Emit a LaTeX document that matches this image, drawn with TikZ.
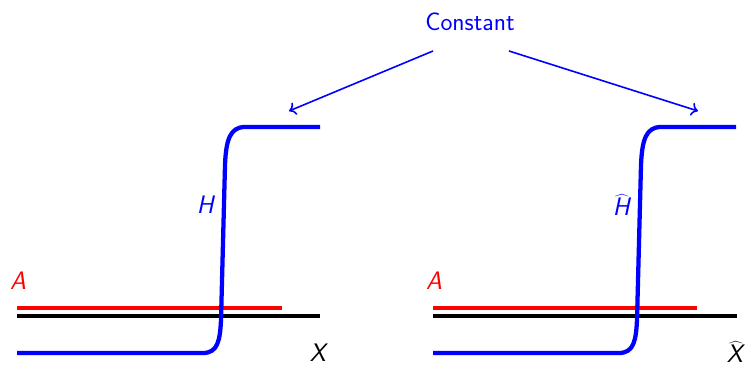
\documentclass[tikz,border=0pt]{standalone}
\usetikzlibrary{arrows.meta}
\begin{document}
\begin{tikzpicture}[x=0.75pt,y=-0.75pt,
  lbl/.style={font=\fontsize{19}{22}\selectfont\sffamily},
  curve/.style={blue,line width=3.2pt,line join=round},
  redline/.style={red,line width=3pt},
  axisline/.style={black,line width=2.5pt},
  ptr/.style={blue,line width=1.2pt,-{To[length=5pt,width=10pt]}}]
\useasboundingbox (0,0) rectangle (746,367);
% left panel
\draw[axisline] (17,316) -- (320,316);
\draw[redline] (17,308) -- (282,308);
\draw[curve] (17,353) -- (203,353) .. controls (218,353) and (220,340) .. (221,320) -- (225,165) .. controls (226,140) and (230,127) .. (245,127) -- (320,127);
\coordinate (ltop) at (289,111);
\node[lbl,blue] (H) at (206,205) {\textit{H}};
\node[lbl,red] (A) at (18,281) {\textit{A}};
\node[lbl] (X) at (319,353) {\textit{X}};
% right panel
\draw[axisline] (433,316) -- (737,316);
\draw[redline] (433,308) -- (697,308);
\draw[curve] (433,353) -- (619,353) .. controls (634,353) and (636,340) .. (637,320) -- (641,165) .. controls (642,140) and (646,127) .. (661,127) -- (736,127);
\coordinate (rtop) at (698,111);
\node[lbl,blue] (Hh) at (622,205) {$\widehat{\mbox{\textit{H}}}$};
\node[lbl,red] (A2) at (434,281) {\textit{A}};
\node[lbl] (Xh) at (736,352) {$\widehat{\mbox{\textit{X}}}$};
% constant
\node[lbl,blue] (C) at (470,22) {Constant};
\coordinate (cl) at (433,51);
\coordinate (cr) at (509,51);
\draw[ptr] (cl) -- (ltop);
\draw[ptr] (cr) -- (rtop);
\end{tikzpicture}
\end{document}
